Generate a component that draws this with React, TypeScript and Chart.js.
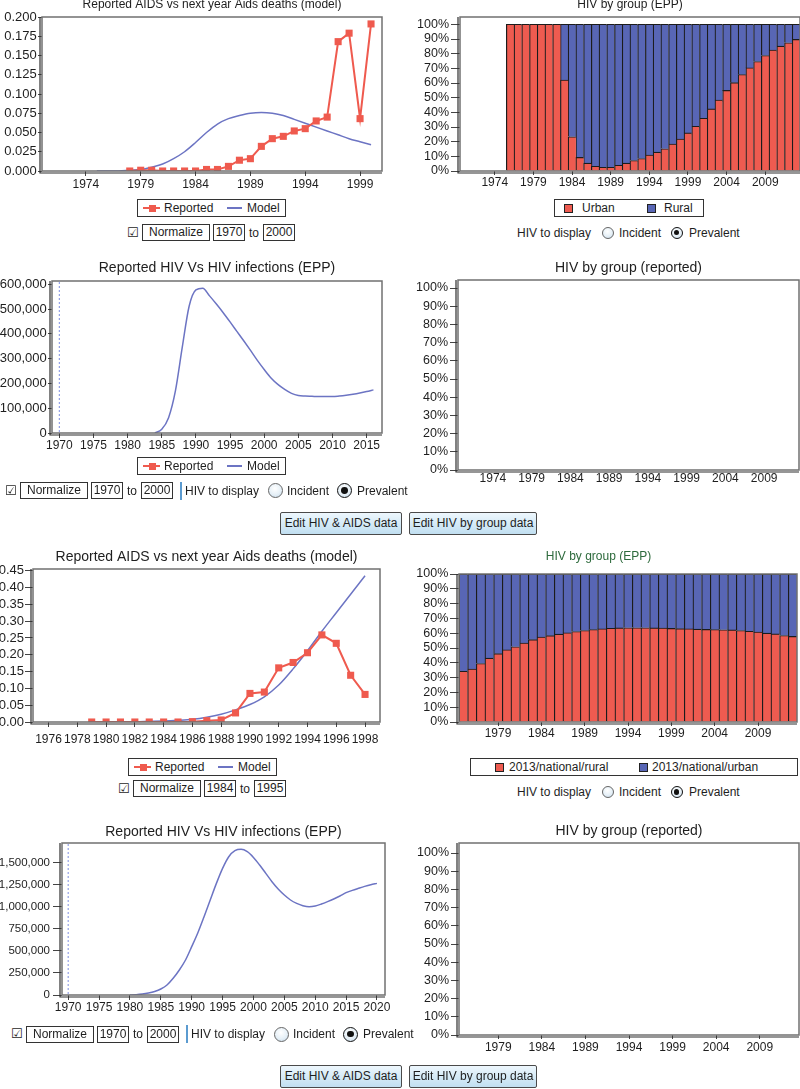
import React, { useEffect, useRef } from 'react';
import { Chart, registerables } from 'chart.js';

Chart.register(...registerables);

const FONT = "'Liberation Sans', Arial, Helvetica, sans-serif";
const INK = '#1e1e1e';
const RED = '#EF5A4E';
const BAR_RED = '#EE5B50';
const BAR_BLUE = '#5866B5';
const LINE_BLUE = '#6C74C3';
const BAR_EDGE = '#1c1c1c';
const NORM_LINE = '#7f8fe0';

Chart.defaults.font.family = FONT;

// ===== Panel 1: Reported AIDS vs next year Aids deaths (model) =====
const P1_REPORTED_YEARS = [1978, 1979, 1980, 1981, 1982, 1983, 1984, 1985, 1986, 1987, 1988, 1989, 1990, 1991, 1992, 1993, 1994, 1995, 1996, 1997, 1998, 1999, 2000];
const P1_REPORTED = [0.0, 0.001, 0.001, 0.0, 0.0, 0.0, 0.0, 0.002, 0.002, 0.006, 0.014, 0.016, 0.032, 0.042, 0.045, 0.052, 0.055, 0.065, 0.07, 0.168, 0.179, 0.068, 0.191];
const P1_MODEL_YEARS = [1975, 1976, 1977, 1978, 1979, 1980, 1981, 1982, 1983, 1984, 1985, 1986, 1987, 1988, 1989, 1990, 1991, 1992, 1993, 1994, 1995, 1996, 1997, 1998, 1999, 2000];
const P1_MODEL = [0.0, 0.0, 0.0, 0.001, 0.002, 0.005, 0.009, 0.016, 0.025, 0.037, 0.05, 0.061, 0.068, 0.072, 0.075, 0.076, 0.075, 0.072, 0.067, 0.062, 0.057, 0.052, 0.047, 0.042, 0.038, 0.034];
const P1_X_TICKS = [1974, 1979, 1984, 1989, 1994, 1999];
const P1_Y_TICKS = [0, 0.025, 0.05, 0.075, 0.1, 0.125, 0.15, 0.175, 0.2];
const P1_NORM = ['1970', '2000'];

// ===== Panel 2: HIV by group (EPP) =====
const BAR_YEARS_A = ['1970', '1971', '1972', '1973', '1974', '1975', '1976', '1977', '1978', '1979', '1980', '1981', '1982', '1983', '1984', '1985', '1986', '1987', '1988', '1989', '1990', '1991', '1992', '1993', '1994', '1995', '1996', '1997', '1998', '1999', '2000', '2001', '2002', '2003', '2004', '2005', '2006', '2007', '2008', '2009', '2010', '2011', '2012', '2013'];
const BAR_TICKS_A = ['1974', '1979', '1984', '1989', '1994', '1999', '2004', '2009'];
const P2_URBAN = [null, null, null, null, null, null, 100, 100, 100, 100, 100, 100, 100, 62, 23.3, 9.2, 5.3, 3.2, 2.5, 2.5, 3.9, 5.3, 7.1, 8.5, 10.8, 12.8, 15.1, 18.3, 21.7, 25.9, 30.4, 35.9, 42.3, 48.3, 54.9, 60.2, 65.7, 70.3, 74.6, 78.7, 82.4, 85.1, 87.4, 89.7];
const P2_RURAL = [null, null, null, null, null, null, null, null, null, null, null, null, null, 38, 76.7, 90.8, 94.7, 96.8, 97.5, 97.5, 96.1, 94.7, 92.9, 91.5, 89.2, 87.2, 84.9, 81.7, 78.3, 74.1, 69.6, 64.1, 57.7, 51.7, 45.1, 39.8, 34.3, 29.7, 25.4, 21.3, 17.6, 14.9, 12.6, 10.3];
const PCT_TICKS = [0, 10, 20, 30, 40, 50, 60, 70, 80, 90, 100];

// ===== Panel 3: Reported HIV Vs HIV infections (EPP) =====
const P3_MODEL_YEARS = [1984, 1985, 1986, 1987, 1988, 1989, 1990, 1991, 1992, 1993, 1994, 1995, 1996, 1997, 1998, 1999, 2000, 2001, 2002, 2003, 2004, 2005, 2006, 2007, 2008, 2009, 2010, 2011, 2012, 2013, 2014, 2015, 2016];
const P3_MODEL = [0, 15000, 62000, 170000, 345000, 510000, 577000, 584000, 553000, 520000, 485000, 448000, 410000, 372000, 333000, 293000, 256000, 222000, 196000, 176000, 160000, 151000, 149000, 148000, 147000, 147000, 147000, 149000, 152000, 156000, 161000, 167000, 174000];
const P3_REPORTED: number[] = [];
const P3_X_TICKS = [1970, 1975, 1980, 1985, 1990, 1995, 2000, 2005, 2010, 2015];
const P3_Y_TICKS = [0, 100000, 200000, 300000, 400000, 500000, 600000];
const P3_NORM = ['1970', '2000'];

// ===== Panel 5: Reported AIDS vs next year Aids deaths (model) =====
const P5_YEARS = [1979, 1980, 1981, 1982, 1983, 1984, 1985, 1986, 1987, 1988, 1989, 1990, 1991, 1992, 1993, 1994, 1995, 1996, 1997, 1998];
const P5_REPORTED = [0, 0, 0, 0, 0, 0, 0, 0.001, 0.004, 0.006, 0.027, 0.085, 0.089, 0.161, 0.177, 0.206, 0.259, 0.234, 0.139, 0.082];
const P5_MODEL = [0, 0, 0.001, 0.001, 0.002, 0.003, 0.005, 0.008, 0.014, 0.023, 0.036, 0.052, 0.075, 0.11, 0.158, 0.212, 0.27, 0.325, 0.38, 0.435];
const P5_X_TICKS = [1976, 1978, 1980, 1982, 1984, 1986, 1988, 1990, 1992, 1994, 1996, 1998];
const P5_Y_TICKS = [0, 0.05, 0.1, 0.15, 0.2, 0.25, 0.3, 0.35, 0.4, 0.45];
const P5_NORM = ['1984', '1995'];

// ===== Panel 6: HIV by group (EPP) =====
const BAR_YEARS_B = ['1975', '1976', '1977', '1978', '1979', '1980', '1981', '1982', '1983', '1984', '1985', '1986', '1987', '1988', '1989', '1990', '1991', '1992', '1993', '1994', '1995', '1996', '1997', '1998', '1999', '2000', '2001', '2002', '2003', '2004', '2005', '2006', '2007', '2008', '2009', '2010', '2011', '2012', '2013'];
const BAR_TICKS_B = ['1979', '1984', '1989', '1994', '1999', '2004', '2009'];
const P6_RURAL = [34.2, 35.7, 39.5, 43.1, 46.1, 48.8, 50.8, 53.3, 55.6, 57.4, 58.3, 59.3, 60.2, 61.1, 61.8, 62.4, 62.9, 63.3, 63.5, 63.6, 63.6, 63.6, 63.5, 63.4, 63.2, 63.0, 62.9, 62.7, 62.5, 62.4, 62.3, 62.2, 61.8, 61.3, 60.7, 60.0, 59.5, 58.4, 57.8];
const P6_URBAN = [65.8, 64.3, 60.5, 56.9, 53.9, 51.2, 49.2, 46.7, 44.4, 42.6, 41.7, 40.7, 39.8, 38.9, 38.2, 37.6, 37.1, 36.7, 36.5, 36.4, 36.4, 36.4, 36.5, 36.6, 36.8, 37.0, 37.1, 37.3, 37.5, 37.6, 37.7, 37.8, 38.2, 38.7, 39.3, 40.0, 40.5, 41.6, 42.2];

// ===== Panel 7: Reported HIV Vs HIV infections (EPP) =====
const P7_MODEL_YEARS = [1980, 1981, 1982, 1983, 1984, 1985, 1986, 1987, 1988, 1989, 1990, 1991, 1992, 1993, 1994, 1995, 1996, 1997, 1998, 1999, 2000, 2001, 2002, 2003, 2004, 2005, 2006, 2007, 2008, 2009, 2010, 2011, 2012, 2013, 2014, 2015, 2016, 2017, 2018, 2019, 2020];
const P7_MODEL = [0, 3000, 10000, 22000, 40000, 68000, 113000, 189000, 283000, 396000, 547000, 705000, 886000, 1075000, 1263000, 1433000, 1565000, 1633000, 1648000, 1622000, 1557000, 1471000, 1376000, 1282000, 1199000, 1131000, 1075000, 1037000, 1011000, 999000, 1007000, 1029000, 1056000, 1086000, 1120000, 1158000, 1184000, 1207000, 1229000, 1248000, 1263000];
const P7_REPORTED: number[] = [];
const P7_X_TICKS = [1970, 1975, 1980, 1985, 1990, 1995, 2000, 2005, 2010, 2015, 2020];
const P7_Y_TICKS = [0, 250000, 500000, 750000, 1000000, 1250000, 1500000];
const P7_NORM = ['1970', '2000'];

// ---------- helpers ----------
const pts = (xs: number[], ys: number[]) => ys.map((y, i) => ({ x: xs[i], y }));
const fmtComma = (v: number) => Math.round(v).toLocaleString('en-US');

type Geo = {
  l: number; t: number; r: number; b: number; yW: number; padR: number;
  titleSize: number; titleY: number; xH: number;
  xTl: number; xPad: number; yTl: number; yPad: number; yFont: number;
};

function geom(g: Geo) {
  const titleH = g.titleSize * 1.2;
  const left = g.l - g.yW;
  const top = Math.round(g.titleY - titleH / 2);
  const width = Math.round(g.r + g.padR - left);
  const height = Math.round(g.b + g.xH - top);
  const titlePadBottom = g.t - top - titleH;
  return { left, top, width, height, titlePadBottom };
}

const framePlugin = {
  id: 'frameBox',
  afterDraw(chart: any) {
    const { ctx, chartArea: a } = chart;
    ctx.save();
    ctx.lineWidth = 1.5;
    ctx.strokeStyle = '#707070';
    ctx.strokeRect(a.left, a.top, a.right - a.left, a.bottom - a.top);
    ctx.lineWidth = 1.2;
    ctx.strokeStyle = '#2f2f2f';
    ctx.beginPath();
    ctx.moveTo(a.left - 2, a.top);
    ctx.lineTo(a.left - 2, a.bottom + 2);
    ctx.lineTo(a.right, a.bottom + 2);
    ctx.stroke();
    ctx.restore();
  },
};

const normLinePlugin = (year: number) => ({
  id: 'normLine',
  beforeDatasetsDraw(chart: any) {
    const { ctx, chartArea: a } = chart;
    const x = chart.scales.x.getPixelForValue(year);
    ctx.save();
    ctx.strokeStyle = NORM_LINE;
    ctx.lineWidth = 1;
    ctx.setLineDash([2, 2]);
    ctx.beginPath();
    ctx.moveTo(x, a.top + 1);
    ctx.lineTo(x, a.bottom);
    ctx.stroke();
    ctx.restore();
  },
});

function baseOptions(g: Geo, padB: number, title: string, titleColor = INK, fullTitle = false) {
  return {
    responsive: false,
    animation: false,
    devicePixelRatio: 1,
    events: [],
    layout: { padding: { left: 0, top: 0, bottom: 0, right: g.padR } },
    plugins: {
      legend: { display: false },
      tooltip: { enabled: false },
      title: {
        display: true, text: title, color: titleColor, fullSize: fullTitle,
        font: { family: FONT, size: g.titleSize, weight: 'normal', lineHeight: 1.2 },
        padding: { top: 0, bottom: padB },
      },
    },
  };
}

function yAxis(g: Geo, max: number, ticks: number[], fmt: (v: number) => string, stacked = false) {
  return {
    type: 'linear', min: 0, max, stacked,
    afterBuildTicks: (s: any) => { s.ticks = ticks.map((v) => ({ value: v })); },
    afterFit: (s: any) => { s.width = g.yW; },
    ticks: { autoSkip: false, callback: (v: any) => fmt(Number(v)), font: { family: FONT, size: g.yFont }, color: INK, padding: g.yPad },
    grid: { drawOnChartArea: false, drawTicks: true, tickLength: g.yTl, color: '#444' },
    border: { display: false },
  };
}

function xLinear(g: Geo, min: number, max: number, ticks: number[]) {
  return {
    type: 'linear', min, max,
    afterBuildTicks: (s: any) => { s.ticks = ticks.map((v) => ({ value: v })); },
    afterFit: (s: any) => { s.height = g.xH; },
    ticks: { autoSkip: false, maxRotation: 0, callback: (v: any) => String(v), font: { family: FONT, size: 12 }, color: INK, padding: g.xPad },
    grid: { drawOnChartArea: false, drawTicks: g.xTl > 0, tickLength: g.xTl, color: '#444' },
    border: { display: false },
  };
}

function xCategory(g: Geo, shown: string[]) {
  return {
    type: 'category', stacked: true, offset: true,
    afterBuildTicks: (s: any) => { s.ticks = s.ticks.filter((t: any) => shown.includes(String(s.getLabelForValue(t.value)))); },
    afterFit: (s: any) => { s.height = g.xH; },
    ticks: { autoSkip: false, maxRotation: 0, font: { family: FONT, size: 12 }, color: INK, padding: g.xPad },
    grid: { offset: false, drawOnChartArea: false, drawTicks: g.xTl > 0, tickLength: g.xTl, color: '#444' },
    border: { display: false },
  };
}

function lineConfig(g: Geo, padB: number, o: any) {
  return {
    type: 'line',
    data: {
      datasets: [
        { label: 'Reported', data: o.reported, borderColor: RED, backgroundColor: RED, borderWidth: 2, pointStyle: 'rect', pointRadius: 5, pointHoverRadius: 5, pointBackgroundColor: RED, pointBorderWidth: 0, tension: 0 },
        { label: 'Model', data: o.model, borderColor: LINE_BLUE, backgroundColor: LINE_BLUE, borderWidth: 1.5, pointRadius: 0, cubicInterpolationMode: 'monotone' },
      ],
    },
    options: { ...baseOptions(g, padB, o.title), scales: { x: xLinear(g, o.xMin, o.xMax, o.xTicks), y: yAxis(g, o.yMax, o.yTicks, o.yFmt) } },
    plugins: [framePlugin, ...(o.extra || [])],
  };
}

const barEdge = { top: 1.1, left: 1.2, right: 0, bottom: 0 };
function barDataset(label: string, data: any[], color: string) {
  return { label, data, backgroundColor: color, borderColor: BAR_EDGE, borderWidth: barEdge, borderSkipped: false, categoryPercentage: 1, barPercentage: 1, inflateAmount: 0.4 };
}

function barConfig(g: Geo, padB: number, o: any) {
  return {
    type: 'bar',
    data: { labels: o.labels, datasets: o.datasets },
    options: {
      ...baseOptions(g, padB, o.title, o.titleColor || INK, !!o.fullTitle),
      scales: { x: xCategory(g, o.shown), y: yAxis(g, o.yMax, PCT_TICKS, (v) => v + '%', true) },
    },
    plugins: [framePlugin],
  };
}

function ChartPanel({ geo, config }: { geo: Geo; config: (padB: number) => any }) {
  const ref = useRef<HTMLCanvasElement | null>(null);
  const g = geom(geo);
  useEffect(() => {
    if (!ref.current) return;
    const chart = new Chart(ref.current, config(g.titlePadBottom));
    return () => chart.destroy();
  }, []);
  return <canvas ref={ref} width={g.width} height={g.height} style={{ position: 'absolute', left: g.left, top: g.top, width: g.width, height: g.height }} />;
}

// ---------- geometry ----------
const G1: Geo = { l: 42, t: 17, r: 382, b: 171, yW: 42, padR: 18, titleSize: 12, titleY: 4, xH: 25, xTl: 5, xPad: 1.3, yTl: 4, yPad: 1.3, yFont: 13 };
const G2: Geo = { l: 460, t: 17, r: 800, b: 171, yW: 60, padR: 6, titleSize: 12, titleY: 4, xH: 25, xTl: 4, xPad: 0.3, yTl: 9, yPad: 2, yFont: 12.5 };
const G3: Geo = { l: 52, t: 281, r: 382, b: 433, yW: 52, padR: 18, titleSize: 14, titleY: 268.5, xH: 25, xTl: 5, xPad: 0, yTl: 4, yPad: 1.3, yFont: 13 };
const G4: Geo = { l: 458, t: 280, r: 799, b: 470, yW: 58, padR: 7, titleSize: 14, titleY: 268, xH: 25, xTl: 0, xPad: 1, yTl: 8, yPad: 2, yFont: 12.5 };
const G5: Geo = { l: 33, t: 569, r: 380, b: 722, yW: 33, padR: 18, titleSize: 14, titleY: 557, xH: 25, xTl: 5, xPad: 5, yTl: 8, yPad: 1, yFont: 13 };
const G6: Geo = { l: 459, t: 574, r: 797, b: 722, yW: 59, padR: 81, titleSize: 12, titleY: 556, xH: 25, xTl: 4, xPad: 0.3, yTl: 9, yPad: 1.7, yFont: 12.5 };
const G7: Geo = { l: 62, t: 843, r: 385, b: 995, yW: 62, padR: 16, titleSize: 14, titleY: 832, xH: 25, xTl: 5, xPad: 0, yTl: 9, yPad: 3, yFont: 11.5 };
const G8: Geo = { l: 459, t: 843, r: 799, b: 1035, yW: 59, padR: 7, titleSize: 14, titleY: 831, xH: 25, xTl: 4, xPad: 1, yTl: 8, yPad: 2, yFont: 12.5 };

// ---------- HTML widgets ----------
const T: React.CSSProperties = { position: 'absolute', fontFamily: FONT, fontSize: 12, color: INK, whiteSpace: 'nowrap', lineHeight: '14px' };

function Txt({ x, cy, children }: any) {
  return <div style={{ ...T, left: x, top: cy - 7 }}>{children}</div>;
}

function Field({ x, cy, w, children }: any) {
  return (
    <div style={{ ...T, left: x, top: cy - 8.5, width: w, height: 17, border: '1px solid #333', boxSizing: 'border-box', lineHeight: '15px', textAlign: 'center', background: '#fff' }}>{children}</div>
  );
}

function Radio({ cx, cy, d, on }: any) {
  return (
    <div style={{ position: 'absolute', left: cx - d / 2, top: cy - d / 2, width: d, height: d, boxSizing: 'border-box', borderRadius: '50%', border: on ? '1.5px solid #111' : '1px solid #666', background: 'radial-gradient(circle at 45% 35%, #ffffff 0%, #e6f0f7 55%, #c4d8e9 100%)' }}>
      {on && <div style={{ position: 'absolute', left: '50%', top: '50%', width: d * 0.46, height: d * 0.46, marginLeft: -d * 0.23, marginTop: -d * 0.23, borderRadius: '50%', background: '#111' }} />}
    </div>
  );
}

function NormRow({ x, cy, range }: any) {
  return (
    <>
      <div style={{ ...T, left: x - 1, top: cy - 8, fontFamily: "'DejaVu Sans', sans-serif", fontSize: 13, lineHeight: '16px' }}>☑</div>
      <Field x={x + 14} cy={cy} w={68}>Normalize</Field>
      <Field x={x + 85} cy={cy} w={32}>{range[0]}</Field>
      <Txt x={x + 121} cy={cy}>to</Txt>
      <Field x={x + 135} cy={cy} w={32}>{range[1]}</Field>
    </>
  );
}

function DispRow({ x, cy, d }: any) {
  return (
    <>
      <Txt x={x} cy={cy}>HIV to display</Txt>
      <Radio cx={x + 90.5} cy={cy} d={d} on={false} />
      <Txt x={x + 102} cy={cy}>Incident</Txt>
      <Radio cx={x + 159.5} cy={cy} d={d} on={true} />
      <Txt x={x + 172} cy={cy}>Prevalent</Txt>
    </>
  );
}

function Sep({ x, cy }: any) {
  return <div style={{ position: 'absolute', left: x, top: cy - 9, width: 1.5, height: 18, background: '#5b9bd0' }} />;
}

function LineLegend({ x, y }: any) {
  const cy = y + 9;
  return (
    <>
      <div style={{ position: 'absolute', left: x, top: y, width: 149, height: 18, border: '1px solid #333', boxSizing: 'border-box', background: '#fff' }} />
      <div style={{ position: 'absolute', left: x + 6, top: cy - 1, width: 17, height: 2, background: RED }} />
      <div style={{ position: 'absolute', left: x + 11.5, top: cy - 3.5, width: 7, height: 7, background: RED }} />
      <Txt x={x + 27} cy={cy}>Reported</Txt>
      <div style={{ position: 'absolute', left: x + 90, top: cy - 0.75, width: 15, height: 1.5, background: LINE_BLUE }} />
      <Txt x={x + 110} cy={cy}>Model</Txt>
    </>
  );
}

function BarLegend({ x, y, w, items }: any) {
  const cy = y + 9;
  return (
    <>
      <div style={{ position: 'absolute', left: x, top: y, width: w, height: 18, border: '1px solid #333', boxSizing: 'border-box', background: '#fff' }} />
      {items.map((it: any, i: number) => (
        <React.Fragment key={i}>
          <div style={{ position: 'absolute', left: x + it.sq, top: cy - 4.5, width: 9, height: 9, background: it.color, border: '1px solid #222', boxSizing: 'border-box' }} />
          <Txt x={x + it.tx} cy={cy}>{it.label}</Txt>
        </React.Fragment>
      ))}
    </>
  );
}

function Button({ x, y, w, children }: any) {
  return (
    <div style={{ ...T, left: x, top: y, width: w, height: 23, boxSizing: 'border-box', border: '1px solid #4a4a4a', borderRadius: 2, lineHeight: '21px', textAlign: 'center', background: 'linear-gradient(to bottom, #eef7fd 0%, #d6ebf7 50%, #c1dff1 100%)' }}>{children}</div>
  );
}

// ---------- chart configs ----------
const cfg1 = (padB: number) => lineConfig(G1, padB, {
  title: 'Reported AIDS vs next year Aids deaths (model)',
  reported: pts(P1_REPORTED_YEARS, P1_REPORTED), model: pts(P1_MODEL_YEARS, P1_MODEL),
  xMin: 1970, xMax: 2001, xTicks: P1_X_TICKS, yMax: 0.2, yTicks: P1_Y_TICKS, yFmt: (v: number) => v.toFixed(3),
});
const cfg2 = (padB: number) => barConfig(G2, padB, {
  title: 'HIV by group (EPP)', labels: BAR_YEARS_A, shown: BAR_TICKS_A, yMax: 105,
  datasets: [barDataset('Urban', P2_URBAN, BAR_RED), barDataset('Rural', P2_RURAL, BAR_BLUE)],
});
const cfg3 = (padB: number) => lineConfig(G3, padB, {
  title: 'Reported HIV Vs HIV infections (EPP)',
  reported: pts([], P3_REPORTED), model: pts(P3_MODEL_YEARS, P3_MODEL),
  xMin: 1968.93, xMax: 2017.25, xTicks: P3_X_TICKS, yMax: 613000, yTicks: P3_Y_TICKS, yFmt: fmtComma,
  extra: [normLinePlugin(Number(P3_NORM[0]))],
});
const cfg4 = (padB: number) => barConfig(G4, padB, {
  title: 'HIV by group (reported)', labels: BAR_YEARS_A, shown: BAR_TICKS_A, yMax: 104.4, datasets: [],
});
const cfg5 = (padB: number) => lineConfig(G5, padB, {
  title: 'Reported AIDS vs next year Aids deaths (model)',
  reported: pts(P5_YEARS, P5_REPORTED), model: pts(P5_YEARS, P5_MODEL),
  xMin: 1974.92, xMax: 1999.04, xTicks: P5_X_TICKS, yMax: 0.455, yTicks: P5_Y_TICKS, yFmt: (v: number) => v.toFixed(2),
});
const cfg6 = (padB: number) => barConfig(G6, padB, {
  title: 'HIV by group (EPP)', titleColor: '#2d6a3c', fullTitle: true, labels: BAR_YEARS_B, shown: BAR_TICKS_B, yMax: 100,
  datasets: [barDataset('2013/national/rural', P6_RURAL, BAR_RED), barDataset('2013/national/urban', P6_URBAN, BAR_BLUE)],
});
const cfg7 = (padB: number) => lineConfig(G7, padB, {
  title: 'Reported HIV Vs HIV infections (EPP)',
  reported: pts([], P7_REPORTED), model: pts(P7_MODEL_YEARS, P7_MODEL),
  xMin: 1969, xMax: 2021.3, xTicks: P7_X_TICKS, yMax: 1720000, yTicks: P7_Y_TICKS, yFmt: fmtComma,
  extra: [normLinePlugin(Number(P7_NORM[0]))],
});
const cfg8 = (padB: number) => barConfig(G8, padB, {
  title: 'HIV by group (reported)', labels: BAR_YEARS_B, shown: BAR_TICKS_B, yMax: 105.5, datasets: [],
});

export default function App() {
  return (
    <div style={{ position: 'absolute', left: 0, top: 0, width: 800, height: 1089, overflow: 'hidden', background: '#fff' }}>
      <ChartPanel geo={G1} config={cfg1} />
      <ChartPanel geo={G2} config={cfg2} />
      <ChartPanel geo={G3} config={cfg3} />
      <ChartPanel geo={G4} config={cfg4} />
      <ChartPanel geo={G5} config={cfg5} />
      <ChartPanel geo={G6} config={cfg6} />
      <ChartPanel geo={G7} config={cfg7} />
      <ChartPanel geo={G8} config={cfg8} />

      {/* Row 1 */}
      <LineLegend x={137} y={199} />
      <NormRow x={128} cy={232.5} range={P1_NORM} />
      <BarLegend x={554} y={199} w={150} items={[
        { color: BAR_RED, label: 'Urban', sq: 10, tx: 28 },
        { color: BAR_BLUE, label: 'Rural', sq: 93, tx: 110 },
      ]} />
      <DispRow x={517} cy={232.5} d={12} />

      {/* Row 2 */}
      <LineLegend x={137} y={457} />
      <NormRow x={6} cy={490.5} range={P3_NORM} />
      <Sep x={180} cy={490.5} />
      <DispRow x={185} cy={490.5} d={15} />
      <Button x={280} y={512} w={122}>Edit HIV &amp; AIDS data</Button>
      <Button x={409} y={512} w={128}>Edit HIV by group data</Button>

      {/* Row 3 */}
      <LineLegend x={128} y={758} />
      <NormRow x={119} cy={788.5} range={P5_NORM} />
      <BarLegend x={470} y={758} w={328} items={[
        { color: BAR_RED, label: '2013/national/rural', sq: 25, tx: 39 },
        { color: BAR_BLUE, label: '2013/national/urban', sq: 169, tx: 182 },
      ]} />
      <DispRow x={517} cy={792} d={12} />

      {/* Row 4 */}
      <NormRow x={12} cy={1034} range={P7_NORM} />
      <Sep x={186} cy={1034} />
      <DispRow x={191} cy={1034} d={15} />
      <Button x={280} y={1065} w={122}>Edit HIV &amp; AIDS data</Button>
      <Button x={409} y={1065} w={128}>Edit HIV by group data</Button>
    </div>
  );
}
